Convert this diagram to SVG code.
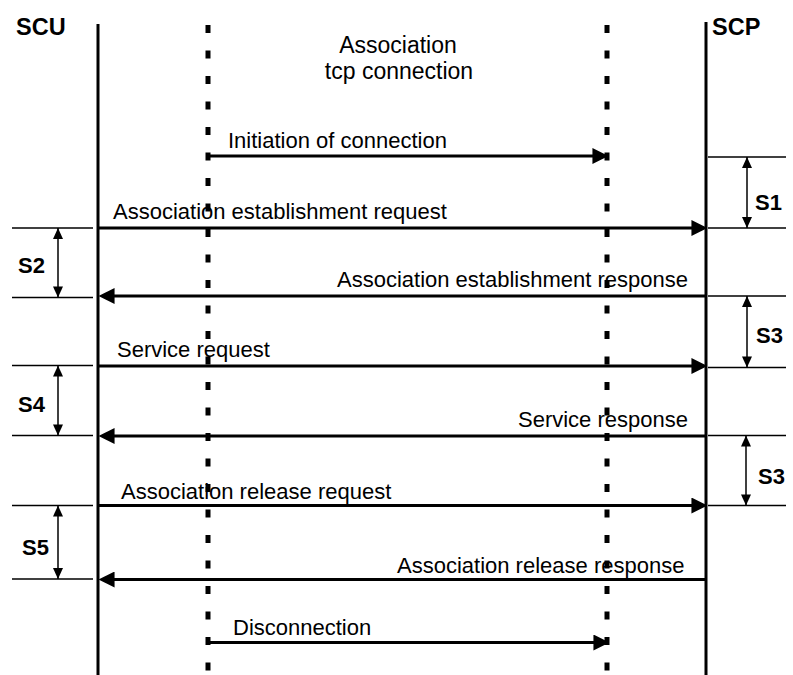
<svg xmlns="http://www.w3.org/2000/svg" width="793" height="675" viewBox="0 0 793 675">
<style>
.t{font-family:"Liberation Sans",Arial,sans-serif;font-size:22px;fill:#000}
.b{font-family:"Liberation Sans",Arial,sans-serif;font-size:22px;font-weight:bold;fill:#000}
.life{stroke:#000;stroke-width:3;fill:none}
.dash{stroke:#000;stroke-width:5;stroke-dasharray:8 17.5;fill:none}
.msg{stroke:#000;stroke-width:3;fill:none;marker-end:url(#ah)}
.tick{stroke:#000;stroke-width:1.3;fill:none}
.dim{stroke:#000;stroke-width:1.5;fill:none;marker-start:url(#sh);marker-end:url(#sh)}
</style>
<defs>
<marker id="ah" markerUnits="userSpaceOnUse" markerWidth="16" markerHeight="16" viewBox="0 0 14 14" refX="4" refY="7" orient="auto">
<path d="M0,0 L14,7 L0,14 z" fill="#000"/>
</marker>
<marker id="sh" markerUnits="userSpaceOnUse" markerWidth="12" markerHeight="10" viewBox="0 0 10 9" refX="10" refY="4.5" orient="auto-start-reverse">
<path d="M0,0 L10,4.5 L0,9 z" fill="#000"/>
</marker>
</defs>
<rect width="793" height="675" fill="#fff"/>

<g id="scu">
<text class="b" x="16" y="35" style="font-size:23.5px">SCU</text>
<line class="life" x1="98" y1="24" x2="98" y2="675"/>
</g>
<g id="scp">
<text class="b" x="712" y="35" style="font-size:23.5px">SCP</text>
<line class="life" x1="706" y1="22" x2="706" y2="675"/>
</g>
<g id="assoc-label">
<text class="t" x="398" y="53" text-anchor="middle" style="font-size:23px">Association</text>
<text class="t" x="399" y="79" text-anchor="middle" style="font-size:23px">tcp connection</text>
</g>

<g id="labels">
<text class="t" x="228" y="148">Initiation of connection</text>
<text class="t" x="113" y="219">Association establishment request</text>
<text class="t" x="337" y="287">Association establishment response</text>
<text class="t" x="117" y="357">Service request</text>
<text class="t" x="518" y="427">Service response</text>
<text class="t" x="121" y="499">Association release request</text>
<text class="t" x="397" y="573">Association release response</text>
<text class="t" x="233" y="635">Disconnection</text>
</g>

<g id="tcp-left">
<line class="dash" x1="208" y1="25" x2="208" y2="675"/>
</g>
<g id="tcp-right">
<line class="dash" x1="607" y1="25" x2="607" y2="675"/>
</g>

<g id="connectors">
<line class="msg" x1="208" y1="156" x2="597" y2="156"/>
<line class="msg" x1="98" y1="228" x2="696" y2="228"/>
<line class="msg" x1="706" y1="296" x2="110" y2="296"/>
<line class="msg" x1="98" y1="366" x2="696" y2="366"/>
<line class="msg" x1="706" y1="436" x2="110" y2="436"/>
<line class="msg" x1="98" y1="505.5" x2="696" y2="505.5"/>
<line class="msg" x1="706" y1="579.5" x2="110" y2="579.5"/>
<line class="msg" x1="208" y1="642.5" x2="598" y2="642.5"/>
</g>

<g id="timers-right">
<line class="tick" x1="708" y1="157" x2="786" y2="157"/>
<line class="tick" x1="708" y1="228" x2="786" y2="228"/>
<line class="tick" x1="708" y1="296" x2="786" y2="296"/>
<line class="tick" x1="708" y1="367.5" x2="786" y2="367.5"/>
<line class="tick" x1="708" y1="435.5" x2="786" y2="435.5"/>
<line class="tick" x1="708" y1="505.5" x2="786" y2="505.5"/>
<line class="dim" x1="747" y1="157" x2="747" y2="228"/>
<line class="dim" x1="747" y1="296" x2="747" y2="367.5"/>
<line class="dim" x1="746" y1="435.5" x2="746" y2="505.5"/>
<text class="b" x="755" y="210">S1</text>
<text class="b" x="756" y="343">S3</text>
<text class="b" x="758" y="484">S3</text>
</g>

<g id="timers-left">
<line class="tick" x1="12" y1="228" x2="93" y2="228"/>
<line class="tick" x1="12" y1="297.5" x2="93" y2="297.5"/>
<line class="tick" x1="12" y1="365.5" x2="93" y2="365.5"/>
<line class="tick" x1="12" y1="435.5" x2="93" y2="435.5"/>
<line class="tick" x1="12" y1="505.5" x2="93" y2="505.5"/>
<line class="tick" x1="12" y1="579" x2="93" y2="579"/>
<line class="dim" x1="58" y1="228" x2="58" y2="297.5"/>
<line class="dim" x1="58" y1="365.5" x2="58" y2="435.5"/>
<line class="dim" x1="58" y1="505.5" x2="58" y2="579"/>
<text class="b" x="18" y="273">S2</text>
<text class="b" x="18" y="412">S4</text>
<text class="b" x="22" y="555">S5</text>
</g>
</svg>
